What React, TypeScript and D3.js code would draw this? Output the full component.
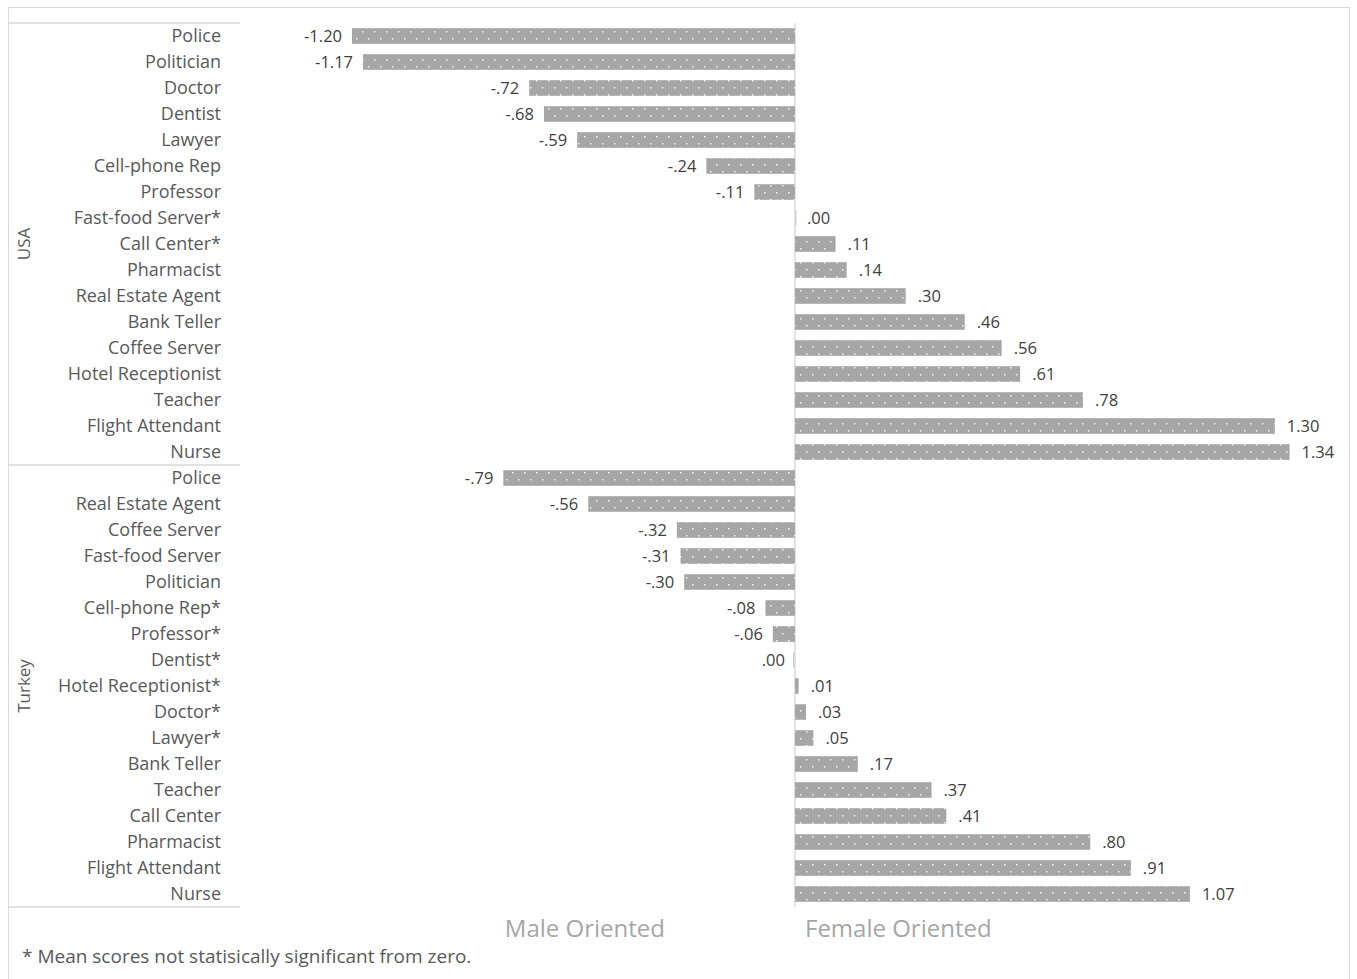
import React from "react";
import * as d3 from "d3";

const usaJobs = ["Police","Politician","Doctor","Dentist","Lawyer","Cell-phone Rep","Professor","Fast-food Server*","Call Center*","Pharmacist","Real Estate Agent","Bank Teller","Coffee Server","Hotel Receptionist","Teacher","Flight Attendant","Nurse"];
const usaValues = [-1.20,-1.17,-0.72,-0.68,-0.59,-0.24,-0.11,0.00,0.11,0.14,0.30,0.46,0.56,0.61,0.78,1.30,1.34];
const turkeyJobs = ["Police","Real Estate Agent","Coffee Server","Fast-food Server","Politician","Cell-phone Rep*","Professor*","Dentist*","Hotel Receptionist*","Doctor*","Lawyer*","Bank Teller","Teacher","Call Center","Pharmacist","Flight Attendant","Nurse"];
const turkeyValues = [-0.79,-0.56,-0.32,-0.31,-0.30,-0.08,-0.06,0.00,0.01,0.03,0.05,0.17,0.37,0.41,0.80,0.91,1.07];
const groups = ["USA","Turkey"];

const W = 1357, H = 979;
const FONT = "'Segoe UI', 'Open Sans', 'Noto Sans', sans-serif";

function fmt(v: number) {
  const s = Math.abs(v).toFixed(2);
  const t = s.startsWith("0") ? s.slice(1) : s;
  return (v < 0 ? "-" : "") + t;
}

export default function App() {
  const rows = [
    ...usaJobs.map((j, i) => ({ key: "u" + i, job: j, v: usaValues[i], g: 0 })),
    ...turkeyJobs.map((j, i) => ({ key: "t" + i, job: j, v: turkeyValues[i], g: 1 })),
  ];
  const top = 23, bottom = 907;
  const y = d3.scaleBand<string>().domain(rows.map(r => r.key)).range([top, bottom]).paddingInner(0.4).paddingOuter(0.2);
  const x = d3.scaleLinear().domain([-1.2, 1.34]).range([352, 1289.6]);
  const x0 = x(0);
  const groupMid = (g: number) => {
    const rs = rows.filter(r => r.g === g);
    return (y(rs[0].key)! + y(rs[rs.length - 1].key)! + y.bandwidth()) / 2;
  };
  const sep = y(rows[17].key)! - y.step() * 0.2;
  return (
    <svg width={W} height={H} style={{ position: "absolute", left: 0, top: 0 }} fontFamily={FONT}>
      <defs>
        <pattern id="dots" width="12" height="14" patternUnits="userSpaceOnUse">
          <rect width="12" height="14" fill="#a6a6a6" />
          <rect x="2" y="3" width="1.5" height="1.5" fill="#f2f2f2" />
          <rect x="8" y="10" width="1.5" height="1.5" fill="#f2f2f2" />
        </pattern>
      </defs>
      <rect x={0} y={0} width={W} height={H} fill="#ffffff" />
      <rect x={8.5} y={7.5} width={1341} height={972} fill="none" stroke="#d9d9d9" strokeWidth={1} />
      {[top, sep, bottom].map((yy, i) => (
        <line key={i} x1={8} x2={240} y1={yy} y2={yy} stroke="#d9d9d9" strokeWidth={1.5} />
      ))}
      <line x1={x0} x2={x0} y1={top} y2={bottom} stroke="#d9d9d9" strokeWidth={1.5} />
      {rows.map(r => {
        const yy = y(r.key)!;
        const bx = Math.min(x(r.v), x0);
        const bw = Math.abs(x(r.v) - x0);
        const cy = yy + y.bandwidth() / 2 - 1;
        const left = r.v < 0 || (r.v === 0 && r.g === 1);
        return (
          <g key={r.key}>
            <text x={221} y={cy} textAnchor="end" dominantBaseline="central" fontSize={18} fill="#595959">{r.job}</text>
            {bw > 0 ? (
              <rect x={bx} y={yy} width={bw} height={y.bandwidth()} fill="url(#dots)" />
            ) : (
              <rect x={x0 + (r.g === 0 ? 0 : -2)} y={yy} width={1.5} height={y.bandwidth()} fill="#d0d0d0" />
            )}
            <text
              x={left ? bx - 10 : x0 + bw + (r.v === 0 ? 12 : 12)}
              y={cy}
              textAnchor={left ? "end" : "start"}
              dominantBaseline="central"
              fontSize={16.5}
              fill="#404040"
            >{fmt(r.v)}</text>
          </g>
        );
      })}
      {groups.map((g, i) => (
        <text key={g} transform={`translate(23,${groupMid(i)}) rotate(-90)`} textAnchor="middle" dominantBaseline="central" fontSize={17} fill="#595959">{g}</text>
      ))}
      <text x={665} y={927} textAnchor="end" dominantBaseline="central" fontSize={24} fill="#a6a6a6">Male Oriented</text>
      <text x={805} y={927} textAnchor="start" dominantBaseline="central" fontSize={24} fill="#a6a6a6">Female Oriented</text>
      <text x={22} y={956} dominantBaseline="central" fontSize={19} fill="#595959">* Mean scores not statisically significant from zero.</text>
    </svg>
  );
}
